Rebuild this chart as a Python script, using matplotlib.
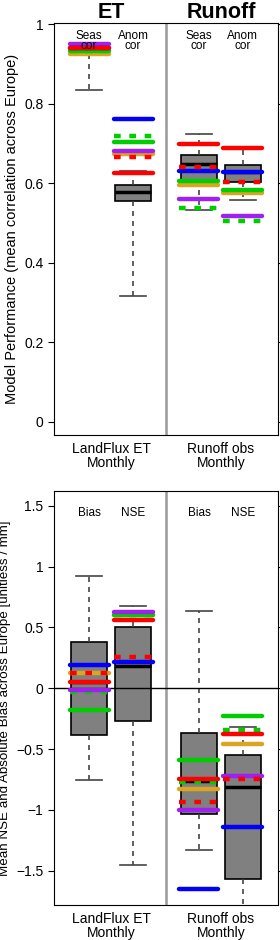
import matplotlib
matplotlib.use("Agg")
import matplotlib.pyplot as plt

plt.rcParams["font.family"] = ["Liberation Sans", "DejaVu Sans"]

# box positions and labels
positions = [1, 2, 3.5, 4.5]
group_ticks = [1.5, 4.0]
group_labels = ["LandFlux ET\nMonthly", "Runoff obs\nMonthly"]
top_titles = ["ET", "Runoff"]
top_sublabels = ["Seas\ncor", "Anom\ncor", "Seas\ncor", "Anom\ncor"]
bot_sublabels = ["Bias", "NSE", "Bias", "NSE"]

# box stats: whislo, q1, med, q3, whishi
top_whislo = [0.834, 0.317, 0.533, 0.559]
top_q1 = [0.926, 0.555, 0.608, 0.603]
top_med = [0.935, 0.579, 0.648, 0.628]
top_q3 = [0.945, 0.595, 0.671, 0.647]
top_whishi = [0.951, 0.632, 0.724, 0.686]

bot_whislo = [-0.756, -1.452, -1.329, -1.95]
bot_q1 = [-0.384, -0.266, -1.03, -1.567]
bot_med = [0.05, 0.181, -0.76, -0.815]
bot_q3 = [0.378, 0.501, -0.370, -0.551]
bot_whishi = [0.923, 0.679, 0.638, -0.320]

# individual model lines (one value per box)
model_names = ["orange", "green", "green_dash", "purple", "blue", "red", "red_dash"]
model_colors = ["#DAA520", "#00CD00", "#00CD00", "#A020F0", "#0000FF", "#FF0000", "#FF0000"]
model_dashed = [False, False, True, False, False, False, True]

top_orange = [0.926, 0.674, 0.595, 0.575]
top_green = [0.933, 0.705, 0.606, 0.583]
top_green_dash = [0.933, 0.718, 0.539, 0.505]
top_purple = [0.951, 0.682, 0.560, 0.518]
top_blue = [0.939, 0.762, 0.632, 0.628]
top_red = [0.939, 0.625, 0.699, 0.688]
top_red_dash = [0.939, 0.666, 0.642, 0.602]

bot_orange = [0.128, 0.600, -0.830, -0.460]
bot_green = [-0.178, 0.605, -0.587, -0.225]
bot_green_dash = [-0.030, 0.600, -0.770, -0.343]
bot_purple = [-0.011, 0.629, -1.0, -0.718]
bot_blue = [0.191, 0.219, -1.647, -1.142]
bot_red = [0.052, 0.561, -0.743, -0.373]
bot_red_dash = [0.128, 0.260, -0.934, -0.745]

top_models = [top_orange, top_green, top_green_dash, top_purple, top_blue, top_red, top_red_dash]
bot_models = [bot_orange, bot_green, bot_green_dash, bot_purple, bot_blue, bot_red, bot_red_dash]


def draw_panel(ax, whislo, q1, med, q3, whishi, models, sublabels, sub_y):
    stats = []
    for i in range(len(positions)):
        stats.append(dict(whislo=whislo[i], q1=q1[i], med=med[i], q3=q3[i],
                          whishi=whishi[i], fliers=[]))
    ax.bxp(stats, positions=positions, widths=0.82, patch_artist=True,
           showfliers=False,
           boxprops=dict(facecolor="#808080", edgecolor="black", linewidth=1.2),
           medianprops=dict(color="black", linewidth=2.5),
           whiskerprops=dict(color="#444444", linestyle=(0, (3, 3)), linewidth=1.2),
           capprops=dict(color="#444444", linewidth=1.2), capwidths=0.6)
    hw = 0.445
    for vals, col, dsh in zip(models, model_colors, model_dashed):
        for p, v in zip(positions, vals):
            ax.plot([p - hw, p + hw], [v, v], color=col, linewidth=3.2,
                    linestyle=(0, (1.5, 1.95)) if dsh else "-",
                    solid_capstyle="round", dash_capstyle="butt", zorder=5)
    ax.axvline(2.75, color="#999999", linewidth=1.8, zorder=1)
    for p, s in zip(positions, sublabels):
        ax.text(p, sub_y, s, ha="center", va="center", fontsize=8.5,
                linespacing=0.85, zorder=6)
    ax.set_xlim(0.2, 5.3)
    ax.set_xticks(group_ticks)
    ax.set_xticklabels(group_labels, fontsize=10, linespacing=1.0)
    ax.tick_params(axis="x", length=0, pad=5)
    ax.tick_params(axis="y", labelsize=10, direction="out", length=4,
                   right=True, labelright=False)


fig = plt.figure(figsize=(2.8, 9.4), dpi=100)
H = 940.0
ax1 = fig.add_axes([54 / 280, 1 - 435 / H, 224 / 280, 412 / H])
ax2 = fig.add_axes([54 / 280, 1 - 905 / H, 224 / 280, 414.3 / H])

draw_panel(ax1, top_whislo, top_q1, top_med, top_q3, top_whishi, top_models,
           top_sublabels, 0.958)
ax1.set_ylim(-0.033, 1.003)
ax1.set_yticks([0, 0.2, 0.4, 0.6, 0.8, 1])
ax1.set_yticklabels(["0", "0.2", "0.4", "0.6", "0.8", "1"])
ax1.set_ylabel("Model Performance (mean correlation across Europe)", fontsize=10.5,
               labelpad=4)
for x, t in zip(group_ticks, top_titles):
    ax1.text(x, 1.0 + 0.004, t, ha="center", va="bottom", fontsize=15.5,
             fontweight="bold", transform=ax1.transData, clip_on=False)

draw_panel(ax2, bot_whislo, bot_q1, bot_med, bot_q3, bot_whishi, bot_models,
           bot_sublabels, 1.44)
ax2.axhline(0, color="black", linewidth=1.0, zorder=4)
ax2.set_ylim(-1.781, 1.624)
ax2.set_yticks([-1.5, -1, -0.5, 0, 0.5, 1, 1.5])
ax2.set_yticklabels(["\u22121.5", "\u22121", "\u22120.5", "0", "0.5", "1", "1.5"])
ax2.set_ylabel("Mean NSE and Absolute Bias across Europe [unitless / mm]",
               fontsize=9.6, labelpad=4)

fig.savefig("out.png", dpi=100)
